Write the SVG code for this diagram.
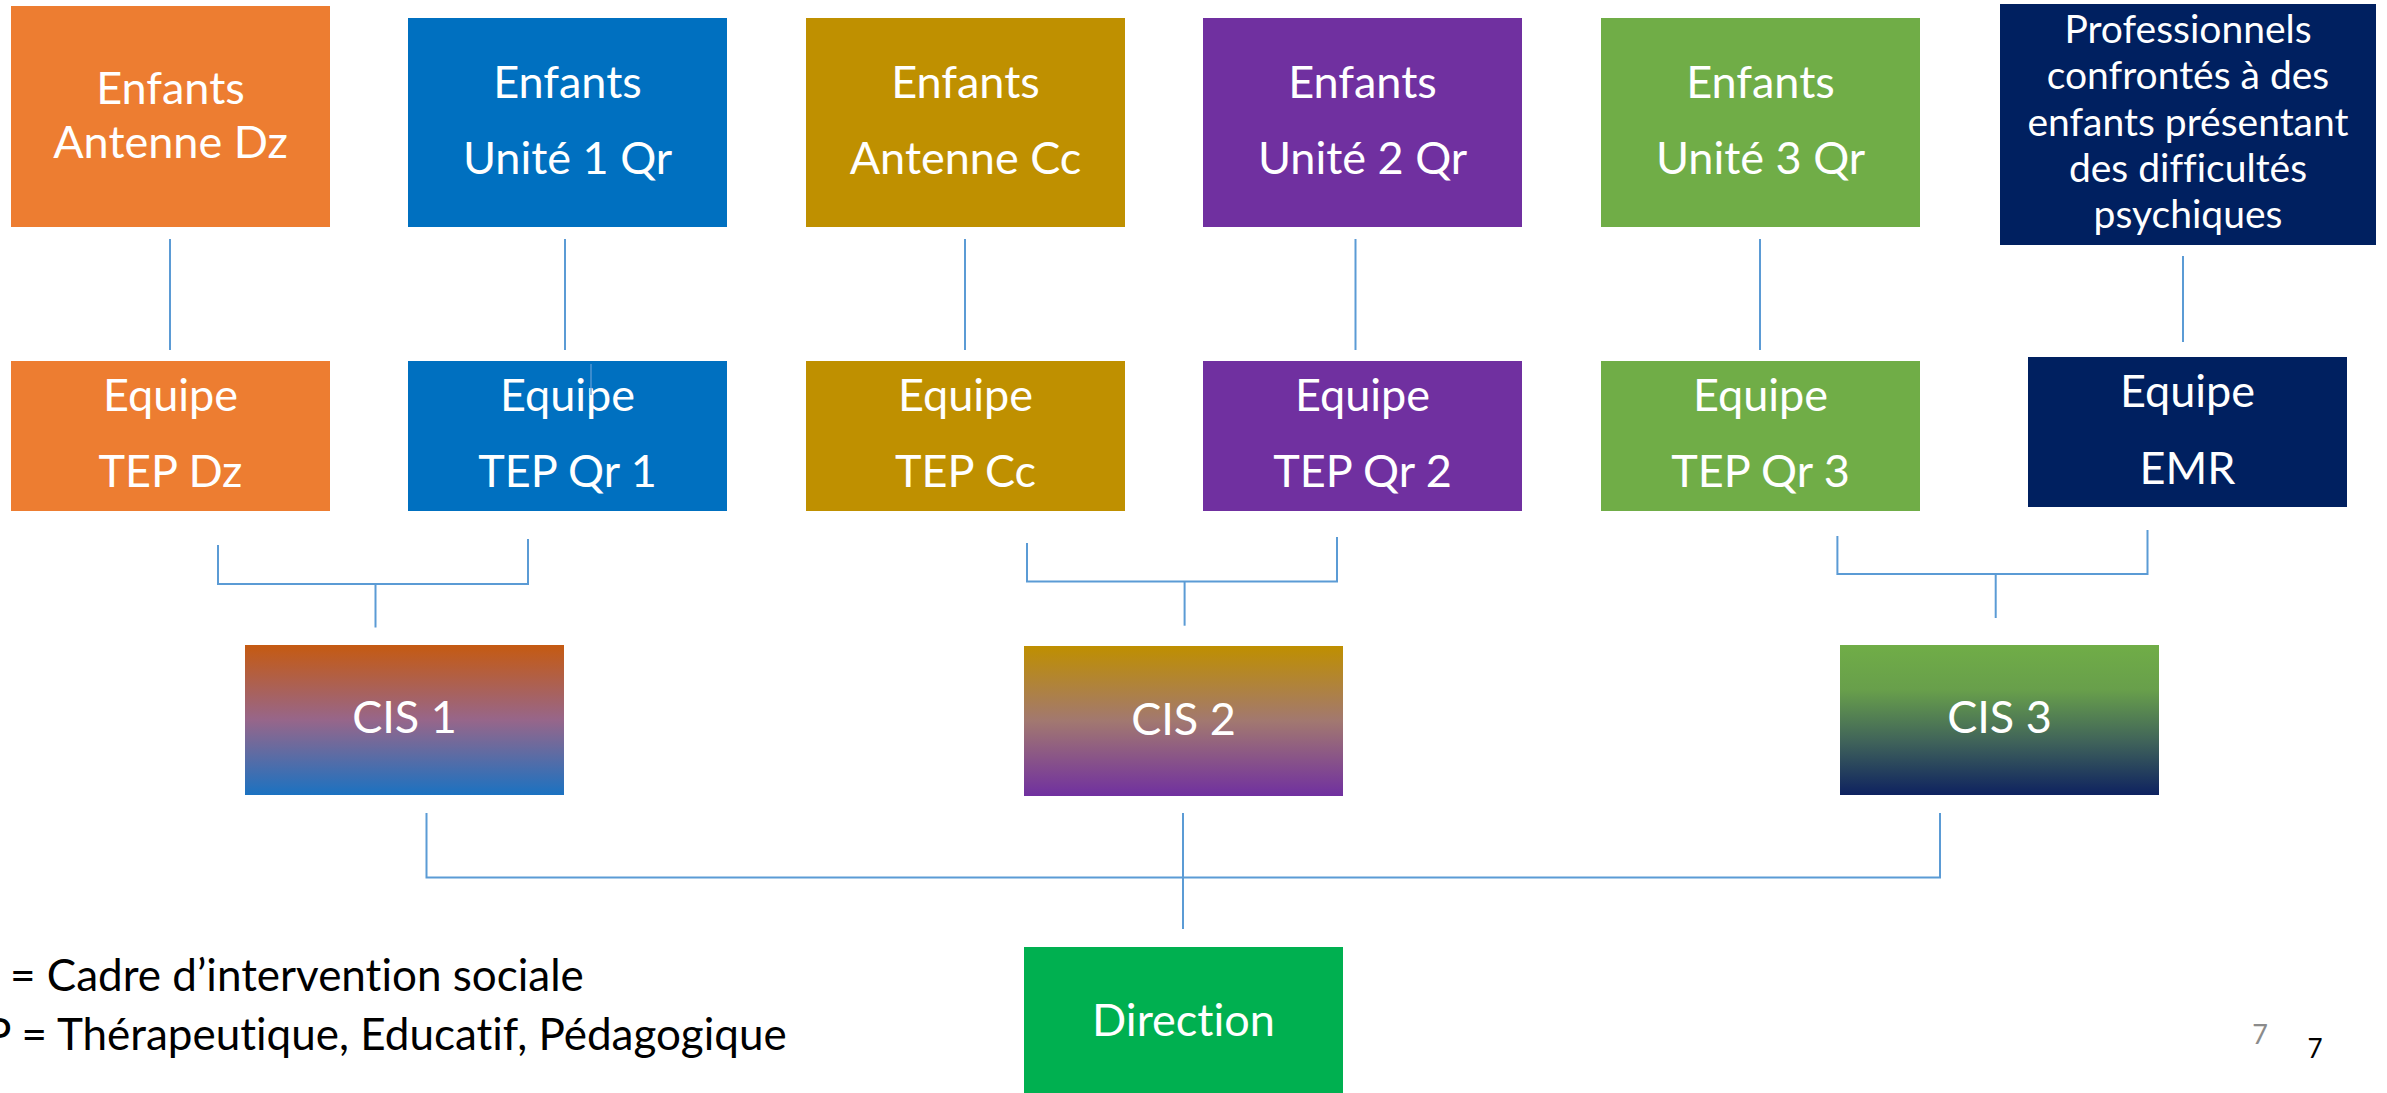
<svg xmlns="http://www.w3.org/2000/svg" width="2387" height="1093" viewBox="0 0 2387 1093">
<style>
  text { font-variant-ligatures: none; font-feature-settings: "liga" 0, "clig" 0; }
  .lbl { font-family: Lato, "Open Sans", "Liberation Sans", sans-serif; fill: #FFFFFF; text-anchor: middle; font-size: 45px; }
  .sm { font-size: 39px; }
  .legend { font-family: Lato, "Open Sans", "Liberation Sans", sans-serif; fill: #000000; font-size: 44px; }
  .conn { fill: none; stroke: #5B9BD5; stroke-width: 2; }
</style>
<defs>
  <linearGradient id="g1" x1="0" y1="0" x2="0" y2="1">
    <stop offset="0" stop-color="#C55A11"/>
    <stop offset="0.5" stop-color="#97668A"/>
    <stop offset="1" stop-color="#1B72C1"/>
  </linearGradient>
  <linearGradient id="g2" x1="0" y1="0" x2="0" y2="1">
    <stop offset="0" stop-color="#BF8F00"/>
    <stop offset="0.5" stop-color="#A27870"/>
    <stop offset="1" stop-color="#7030A0"/>
  </linearGradient>
  <linearGradient id="g3" x1="0" y1="0" x2="0" y2="1">
    <stop offset="0" stop-color="#70AD47"/>
    <stop offset="0.3" stop-color="#689F4B"/>
    <stop offset="0.65" stop-color="#3F625A"/>
    <stop offset="1" stop-color="#0E2260"/>
  </linearGradient>
</defs>
<rect width="2387" height="1093" fill="#FFFFFF"/>

<g id="connectors">
  <path class="conn" d="M170,239 V350"/>
  <path class="conn" d="M565,239 V350"/>
  <path class="conn" d="M965,239 V350"/>
  <path class="conn" d="M1355.5,239 V350"/>
  <path class="conn" d="M1760,239 V350"/>
  <path class="conn" d="M2183,256 V342"/>
  <path class="conn" d="M218,545 V584 H528 V539"/>
  <path class="conn" d="M375.5,584 V627.5"/>
  <path class="conn" d="M1027,543 V581.6 H1337 V537"/>
  <path class="conn" d="M1184.6,581.6 V625.7"/>
  <path class="conn" d="M1837.4,536 V574 H2147.5 V530"/>
  <path class="conn" d="M1995.7,574 V618"/>
  <path class="conn" d="M426.5,813 V877.5 H1940 V813"/>
  <path class="conn" d="M1183,813 V929"/>
</g>

<g id="enfants-antenne-dz">
  <rect x="11" y="6" width="319" height="221" fill="#ED7D31"/>
  <text class="lbl" x="170.5" y="104">Enfants</text>
  <text class="lbl" x="170.5" y="158">Antenne Dz</text>
</g>
<g id="enfants-unite-1-qr">
  <rect x="408" y="18" width="319" height="209" fill="#0070C0"/>
  <text class="lbl" x="567.5" y="98">Enfants</text>
  <text class="lbl" x="567.5" y="174">Unité 1 Qr</text>
</g>
<g id="enfants-antenne-cc">
  <rect x="806" y="18" width="319" height="209" fill="#BF9000"/>
  <text class="lbl" x="965.5" y="98">Enfants</text>
  <text class="lbl" x="965.5" y="174">Antenne Cc</text>
</g>
<g id="enfants-unite-2-qr">
  <rect x="1203" y="18" width="319" height="209" fill="#7030A0"/>
  <text class="lbl" x="1362.5" y="98">Enfants</text>
  <text class="lbl" x="1362.5" y="174">Unité 2 Qr</text>
</g>
<g id="enfants-unite-3-qr">
  <rect x="1601" y="18" width="319" height="209" fill="#70AD47"/>
  <text class="lbl" x="1760.5" y="98">Enfants</text>
  <text class="lbl" x="1760.5" y="174">Unité 3 Qr</text>
</g>
<g id="professionnels">
  <rect x="2000" y="4" width="376" height="241" fill="#002060"/>
  <text class="lbl sm" x="2188" y="43">Professionnels</text>
  <text class="lbl sm" x="2188" y="89">confrontés à des</text>
  <text class="lbl sm" x="2188" y="136">enfants présentant</text>
  <text class="lbl sm" x="2188" y="182">des difficultés</text>
  <text class="lbl sm" x="2188" y="228">psychiques</text>
</g>

<g id="equipe-tep-dz">
  <rect x="11" y="361" width="319" height="150" fill="#ED7D31"/>
  <text class="lbl" x="170.5" y="411">Equipe</text>
  <text class="lbl" x="170.5" y="487">TEP Dz</text>
</g>
<g id="equipe-tep-qr-1">
  <rect x="408" y="361" width="319" height="150" fill="#0070C0"/>
  <text class="lbl" x="567.5" y="411">Equipe</text>
  <text class="lbl" x="567.5" y="487">TEP Qr 1</text>
  <line x1="591" y1="364" x2="591" y2="395" stroke="#5B9BD5" stroke-width="1.3"/>
</g>
<g id="equipe-tep-cc">
  <rect x="806" y="361" width="319" height="150" fill="#BF9000"/>
  <text class="lbl" x="965.5" y="411">Equipe</text>
  <text class="lbl" x="965.5" y="487">TEP Cc</text>
</g>
<g id="equipe-tep-qr-2">
  <rect x="1203" y="361" width="319" height="150" fill="#7030A0"/>
  <text class="lbl" x="1362.5" y="411">Equipe</text>
  <text class="lbl" x="1362.5" y="487">TEP Qr 2</text>
</g>
<g id="equipe-tep-qr-3">
  <rect x="1601" y="361" width="319" height="150" fill="#70AD47"/>
  <text class="lbl" x="1760.5" y="411">Equipe</text>
  <text class="lbl" x="1760.5" y="487">TEP Qr 3</text>
</g>
<g id="equipe-emr">
  <rect x="2028" y="357" width="319" height="150" fill="#002060"/>
  <text class="lbl" x="2187.5" y="407">Equipe</text>
  <text class="lbl" x="2187.5" y="484">EMR</text>
</g>

<g id="cis-1">
  <rect x="245" y="645" width="319" height="150" fill="url(#g1)"/>
  <text class="lbl" x="404.5" y="733">CIS 1</text>
</g>
<g id="cis-2">
  <rect x="1024" y="646" width="319" height="150" fill="url(#g2)"/>
  <text class="lbl" x="1183.5" y="735">CIS 2</text>
</g>
<g id="cis-3">
  <rect x="1840" y="645" width="319" height="150" fill="url(#g3)"/>
  <text class="lbl" x="1999.5" y="733">CIS 3</text>
</g>

<g id="direction">
  <rect x="1024" y="947" width="319" height="150" fill="#00B050"/>
  <text class="lbl" x="1183.5" y="1036">Direction</text>
</g>

<g id="legend">
  <text class="legend" x="10" y="991">= Cadre d’intervention sociale</text>
  <text class="legend" x="-15" y="1050">P = Thérapeutique, Educatif, Pédagogique</text>
</g>

<g id="page-numbers">
  <text x="2260" y="1044" font-family="Lato, 'Liberation Sans', sans-serif" font-size="27" fill="#8B8B8B" text-anchor="middle">7</text>
  <text x="2315" y="1058" font-family="Lato, 'Liberation Sans', sans-serif" font-size="26" fill="#000000" text-anchor="middle">7</text>
</g>
</svg>
